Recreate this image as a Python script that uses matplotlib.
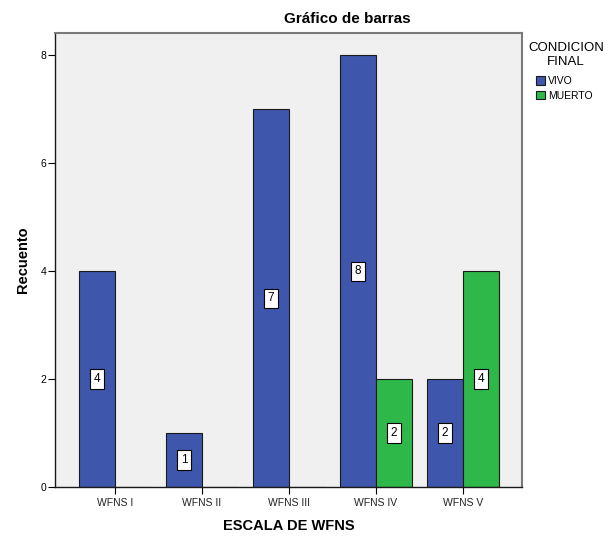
import matplotlib.pyplot as plt
import numpy as np

plt.rcParams['font.family'] = ['Liberation Sans', 'DejaVu Sans']

categorias = ['WFNS I', 'WFNS II', 'WFNS III', 'WFNS IV', 'WFNS V']
vivo = [4, 1, 7, 8, 2]
muerto = [0, 0, 0, 2, 4]
series = ['VIVO', 'MUERTO']
colores = ['#3e56ab', '#2fb84a']

fig = plt.figure(figsize=(6.1, 5.37), dpi=100)
W, H = 610, 537
ax = fig.add_axes([55 / W, 1 - 487 / H, (522 - 55) / W, (487 - 33) / H])
ax.set_facecolor('#f0f0f0')

x = np.arange(len(categorias))
ancho = 0.414
for valores, nombre, color, signo in zip([vivo, muerto], series, colores, [-1, 1]):
    barras = ax.bar(x + signo * ancho / 2, valores, ancho, color=color,
                    edgecolor='#1a1a1a', linewidth=0.8, label=nombre)
    for b, v in zip(barras, valores):
        if v > 0:
            ax.text(b.get_x() + b.get_width() / 2, v / 2, str(v), ha='center', va='center',
                    fontsize=8.5,
                    bbox=dict(boxstyle='square,pad=0.3', fc='white', ec='black', lw=0.8))

ax.set_xlim(-0.69, 4.68)
ax.set_ylim(0, 8.41)
ax.set_xticks(x)
ax.set_xticklabels(categorias, fontsize=7.5, color='#222222')
ax.set_yticks([0, 2, 4, 6, 8])
ax.tick_params(axis='y', labelsize=7.5, length=5, width=0.8, pad=1)
ax.tick_params(axis='x', length=5, width=0.8, pad=3)

for s in ['top', 'right']:
    ax.spines[s].set_color('#7a7a7a')
    ax.spines[s].set_linewidth(1.5)
for s in ['left', 'bottom']:
    ax.spines[s].set_color('#1a1a1a')
    ax.spines[s].set_linewidth(1.0)

ax.set_xlabel('ESCALA DE WFNS', fontsize=10.5, fontweight='bold', labelpad=8)
ax.set_ylabel('Recuento', fontsize=10.5, fontweight='bold', labelpad=8)
fig.text(347 / W, 1 - 19 / H, 'Gráfico de barras', ha='center', va='center',
         fontsize=11, fontweight='bold')

fig.text(566 / W, 1 - 55 / H, 'CONDICION\nFINAL', ha='center', va='center',
         multialignment='center', fontsize=9.5, linespacing=1.15)
fig.legend(loc='upper left', bbox_to_anchor=(536 / W, 1 - 76 / H), frameon=False,
           fontsize=7.5, handlelength=0.9, handleheight=0.9, handletextpad=0.25,
           labelspacing=0.45, borderaxespad=0, borderpad=0)

fig.savefig('out.png', dpi=100)
